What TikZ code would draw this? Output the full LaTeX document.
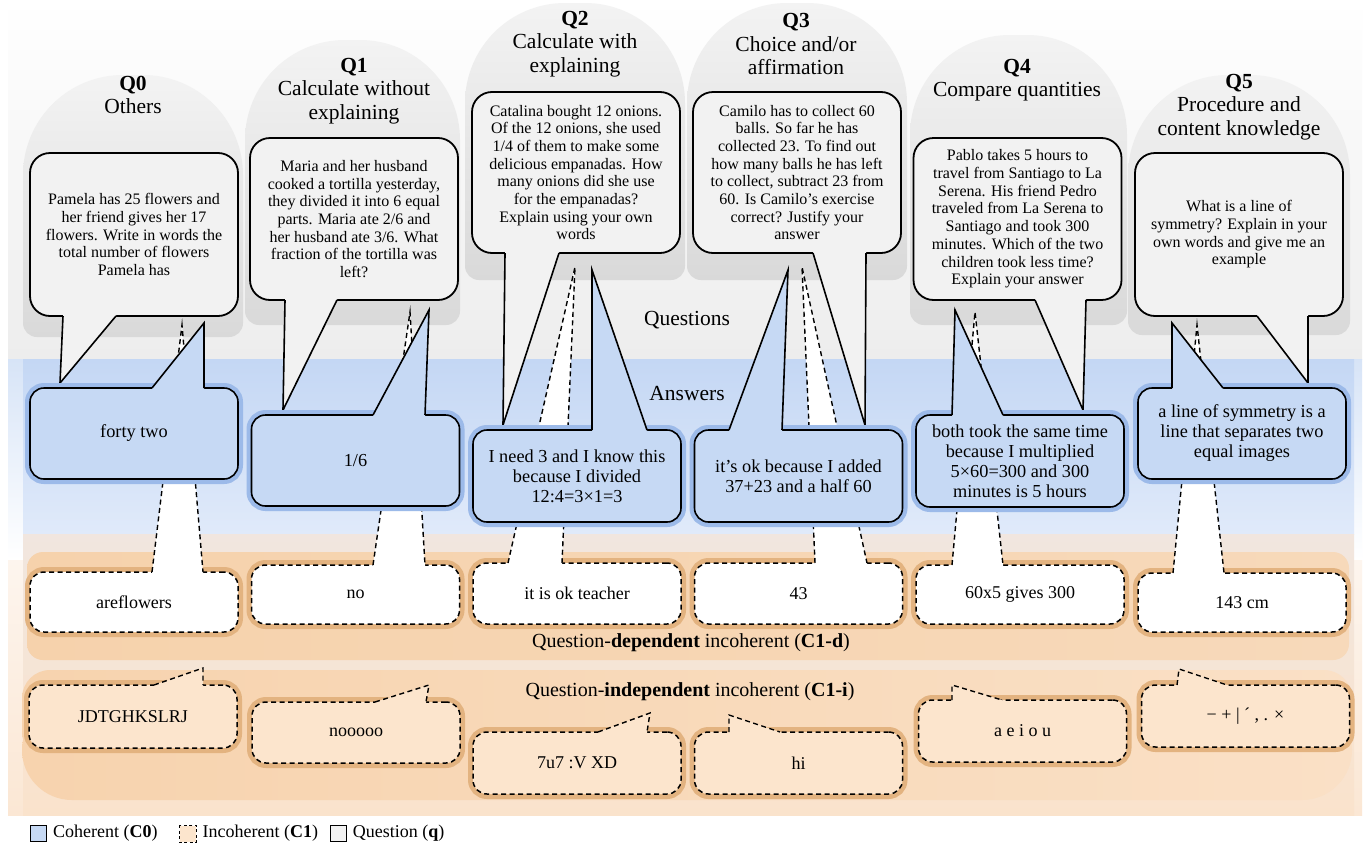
\documentclass[tikz,border=0pt]{standalone}
\usepackage{fontspec}
\setmainfont{Liberation Serif}
\usetikzlibrary{calc}
\definecolor{qfill}{HTML}{F2F2F2}
\definecolor{afill}{HTML}{C6D9F4}
\definecolor{ahalo}{HTML}{9CBAE9}
\definecolor{dhalo}{HTML}{E3B380}
\definecolor{ifill}{HTML}{FCE5CD}
\definecolor{topgray}{HTML}{EDEDED}
\definecolor{sideblue}{HTML}{D7E4F7}
\definecolor{sideorA}{HTML}{FDF5EE}
\definecolor{sideorB}{HTML}{FBE7D4}
\definecolor{bandblueA}{HTML}{C4D7F4}
\definecolor{bandblueB}{HTML}{E0EAFA}
\definecolor{orA}{HTML}{F1E6DF}
\definecolor{orbase}{HTML}{FAE3CC}
\definecolor{depA}{HTML}{F6D2AC}
\definecolor{depB}{HTML}{F7D9BA}
\definecolor{indA}{HTML}{F7D3AE}
\definecolor{indB}{HTML}{FAE0C6}
\definecolor{grpA}{HTML}{F3F3F3}
\definecolor{grpB}{HTML}{D9D9D9}
\tikzset{
  qbox/.style={draw, line width=1.8pt, fill=qfill, rounded corners=20pt,
    minimum width=208pt, inner sep=0pt, align=center,
    font=\fontsize{16}{17.7}\selectfont},
  abox/.style={draw, line width=1.6pt, fill=afill, rounded corners=14pt,
    minimum width=208pt, inner sep=0pt, align=center,
    font=\fontsize{18.3}{20}\selectfont,
    preaction={draw=ahalo, line width=10pt}},
  dbox/.style={draw, line width=1.5pt, dash pattern=on 5pt off 3.5pt,
    fill=white, rounded corners=14pt, minimum width=208pt, inner sep=0pt,
    align=center, font=\fontsize{18}{20}\selectfont,
    preaction={draw=dhalo, line width=10pt, solid}},
  ibox/.style={dbox, fill=ifill},
  qline/.style={line width=1.6pt},
  dline/.style={line width=1.4pt, dash pattern=on 5pt off 3.5pt},
  ttl/.style={align=center, font=\fontsize{21.5}{23.5}\selectfont},
  lbl/.style={font=\fontsize{21.5}{24}\selectfont},
  bandlbl/.style={font=\fontsize{20}{22}\selectfont},
  legsq/.style={draw, line width=1pt, minimum size=16pt, inner sep=0pt},
  legtxt/.style={anchor=west, font=\fontsize{18}{20}\selectfont, inner sep=0pt},
}
% tail: draw options, fill, base x1, base x2, base y, inset, tip x, tip y
\newcommand\ctail[8]{%
  \fill[#2] (#3,{#5+(#6)}) -- (#3,#5) -- (#7,#8) -- (#4,#5) -- (#4,{#5+(#6)}) -- cycle;
  \draw[#1] (#3,#5) -- (#7,#8) -- (#4,#5);}
% question group background: x1, x2, top, bottom
\newcommand\grp[4]{%
  \shade[top color=grpA, bottom color=grpB] [rounded corners=100pt] (#1,#3) rectangle (#2,#4)
     [rounded corners=14pt] (#1,{#3+110}) rectangle (#2,#4);}
\begin{document}
\begin{tikzpicture}[x=1pt, y=-1pt, line join=miter]
\useasboundingbox (0,0) rectangle (1372,846);
\fill[white] (0,0) rectangle (1372,846);
% panel backgrounds
\shade[top color=white, bottom color=topgray] (8,0) rectangle (1362,359);
\shade[top color=sideblue, bottom color=white] (8,359) rectangle (1362,560);
\shade[top color=sideorA, bottom color=sideorB] (8,560) rectangle (1362,815);
\shade[top color=bandblueA, bottom color=bandblueB] (23,359) rectangle (1354,534);
\shade[top color=orA, bottom color=orbase] (23,534) rectangle (1354,815);
\shade[left color=depA, right color=depB, rounded corners=16pt] (27,552) rectangle (1349,660);
\shade[left color=indA, right color=indB] [rounded corners=28pt] (22,670) rectangle (1352,760)
   [rounded corners=50pt] (22,700) rectangle (1352,800);
% question groups
\grp{23}{243}{75}{337}
\grp{245}{460}{40}{325}
\grp{465}{685}{3}{280}
\grp{687}{907}{3}{280}
\grp{910}{1127}{35}{325}
\grp{1128}{1350}{75}{335}
% titles
\node[ttl] (t0) at (133,95) {\textbf{Q0}\\Others};
\node[ttl] (t1) at (354,91) {\textbf{Q1}\\Calculate without\\explaining};
\node[ttl] (t2) at (575,44) {\textbf{Q2}\\Calculate with\\explaining};
\node[ttl] (t3) at (796,44) {\textbf{Q3}\\Choice and/or\\affirmation};
\node[ttl] (t4) at (1017,80) {\textbf{Q4}\\Compare quantities};
\node[ttl] (t5) at (1239,107) {\textbf{Q5}\\Procedure and\\content knowledge};
% band labels
\node[lbl] (lq) at (687,320) {Questions};
\node[lbl] (la) at (687,394) {Answers};
\node[bandlbl] (ld) at (691,643) {Question-\textbf{dependent} incoherent (\textbf{C1-d})};
\node[bandlbl] (li) at (690,692) {Question-\textbf{independent} incoherent (\textbf{C1-i})};
% question bubbles
\node[qbox, minimum height=163pt] (q0) at (134,234.5) {Pamela has 25 flowers and\\her friend gives her 17\\flowers. Write in words the\\total number of flowers\\Pamela has};
\node[qbox, minimum height=162pt] (q1) at (354,219) {Maria and her husband\\cooked a tortilla yesterday,\\they divided it into 6 equal\\parts. Maria ate 2/6 and\\her husband ate 3/6. What\\fraction of the tortilla was\\left?};
\node[qbox, minimum height=161pt] (q2) at (576,172.5) {Catalina bought 12 onions.\\Of the 12 onions, she used\\1/4 of them to make some\\delicious empanadas. How\\many onions did she use\\for the empanadas?\\Explain using your own\\words};
\node[qbox, minimum height=161pt] (q3) at (797,172.5) {Camilo has to collect 60\\balls. So far he has\\collected 23. To find out\\how many balls he has left\\to collect, subtract 23 from\\60. Is Camilo's exercise\\correct? Justify your\\answer};
\node[qbox, minimum height=162pt] (q4) at (1017.5,219) {Pablo takes 5 hours to\\travel from Santiago to La\\Serena. His friend Pedro\\traveled from La Serena to\\Santiago and took 300\\minutes. Which of the two\\children took less time?\\Explain your answer};
\node[qbox, minimum height=163pt] (q5) at (1239,234.5) {What is a line of\\symmetry? Explain in your\\own words and give me an\\example};
\ctail{qline}{qfill}{63}{116}{316}{-2.5}{60}{383}
\ctail{qline}{qfill}{285}{337}{300}{-2.5}{283}{410}
\ctail{qline}{qfill}{505}{559}{253}{-2.5}{503}{425}
\ctail{qline}{qfill}{813}{866}{253}{-2.5}{865}{425}
\ctail{qline}{qfill}{1035}{1086}{300}{-2.5}{1083}{410}
\ctail{qline}{qfill}{1257}{1308}{316}{-2.5}{1308}{383}
% question-dependent incoherent answers
\node[dbox, minimum height=60pt] (d0) at (134,602) {areflowers};
\node[dbox, minimum height=59pt] (d1) at (355.5,594.5) {no};
\node[dbox, minimum height=61pt] (d2) at (577,593.5) {it is ok teacher};
\node[dbox, minimum height=61pt] (d3) at (798.5,593.5) {43};
\node[dbox, minimum height=59pt] (d4) at (1020,594.5) {60x5 gives 300};
\node[dbox, minimum height=59pt] (d5) at (1242,602.5) {143 cm};
\ctail{dline}{white}{152}{203}{572}{2.5}{182}{325}
\ctail{dline}{white}{373}{425}{565}{2.5}{410}{312}
\ctail{dline}{white}{508}{562}{563}{2.5}{575}{267}
\ctail{dline}{white}{815}{867}{563}{2.5}{802}{267}
\ctail{dline}{white}{952}{1003}{565}{2.5}{975}{312}
\ctail{dline}{white}{1173}{1224}{573}{2.5}{1197}{325}
% coherent answers
\node[abox, minimum height=91pt] (a0) at (134,433.5) {forty two};
\node[abox, minimum height=91pt] (a1) at (355.5,460.5) {1/6};
\node[abox, minimum height=92pt] (a2) at (577,476) {I need 3 and I know this\\because I divided\\12:4=3×1=3};
\node[abox, minimum height=92pt] (a3) at (798.5,476) {it's ok because I added\\37+23 and a half 60};
\node[abox, minimum height=92pt] (a4) at (1020,461) {both took the same time\\because I multiplied\\5×60=300 and 300\\minutes is 5 hours};
\node[abox, minimum height=91pt] (a5) at (1242,433.5) {a line of symmetry is a\\line that separates two\\equal images};
\ctail{qline}{afill}{152}{204}{388}{2.5}{204}{323}
\ctail{qline}{afill}{373}{425}{415}{2.5}{429}{310}
\ctail{qline}{afill}{592}{647}{430}{2.5}{592}{270}
\ctail{qline}{afill}{729}{782}{430}{2.5}{788}{270}
\ctail{qline}{afill}{952}{1003}{415}{2.5}{955}{310}
\ctail{qline}{afill}{1172}{1223}{388}{2.5}{1172}{323}
% question-independent incoherent answers
\node[ibox, minimum height=63pt] (i0) at (133,716.5) {JDTGHKSLRJ};
\node[ibox, minimum height=61pt] (i1) at (356,732.5) {nooooo};
\node[ibox, minimum height=62pt] (i2) at (577,763) {7u7 :V XD};
\node[ibox, minimum height=62pt] (i3) at (798.5,763) {hi};
\node[ibox, minimum height=62pt] (i4) at (1022.5,731) {a e i o u};
\node[ibox, minimum height=62pt] (i5) at (1245.5,716) {− + | ´ , . ×};
\ctail{dline}{ifill}{154}{203}{685}{2.5}{203}{668}
\ctail{dline}{ifill}{375}{426}{702}{2.5}{429}{685}
\ctail{dline}{ifill}{598}{647}{732}{2.5}{650}{713}
\ctail{dline}{ifill}{729}{780}{732}{2.5}{729}{715}
\ctail{dline}{ifill}{952}{1002}{700}{2.5}{952}{685}
\ctail{dline}{ifill}{1177}{1227}{685}{2.5}{1179}{669}
% legend
\node[legsq, fill=afill] (g1) at (38.5,833.5) {};
\node[legtxt] (g1t) at ([xshift=6pt]g1.east) {Coherent (\textbf{C0})};
\node[legsq, fill=ifill, draw=none] (g2) at ([xshift=30pt]g1t.east) {};
\draw[line width=1pt, dash pattern=on 3pt off 2.5pt] (g2.north west) rectangle (g2.south east);
\node[legtxt] (g2t) at ([xshift=6pt]g2.east) {Incoherent (\textbf{C1})};
\node[legsq, fill=qfill] (g3) at ([xshift=20pt]g2t.east) {};
\node[legtxt] (g3t) at ([xshift=6pt]g3.east) {Question (\textbf{q})};
\end{tikzpicture}
\end{document}
